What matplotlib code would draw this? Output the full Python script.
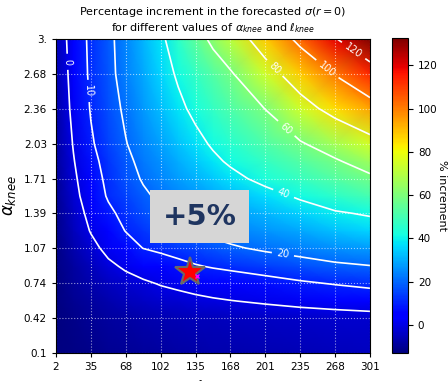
import numpy as np
import matplotlib
matplotlib.use('Agg')
import matplotlib.pyplot as plt

# grid nodes and the % increment (one list per alpha row)
ell_knee = [2, 18.6, 35.2, 51.8, 68.4, 85.1, 101.7, 118.3, 134.9, 151.5,
            168.1, 201.3, 234.6, 267.8, 301]
alpha_knee = [0.1, 0.42, 0.58, 0.74, 0.9, 1.07, 1.23, 1.39, 1.55, 1.71,
              1.87, 2.03, 2.36, 2.68, 3.0]

row_010 = [-13, -12.3, -11.5, -10.7, -10, -9.3, -8.7, -8.2, -7.7, -7.3, -7,
           -6.3, -5.7, -5.2, -4.7]
row_042 = [-13, -11.5, -10, -9, -8, -7.2, -6.5, -6, -5.5, -5.1, -4.8,
           -4.2, -3.7, -3.3, -3]
row_058 = [-12.8, -10.6, -8.7, -7.0, -5.5, -4.3, -3.2, -2.3, -1.5, -0.8,
           -0.2, 0.9, 2.1, 3.2, 4.4]
row_074 = [-12.5, -9.5, -7, -4.8, -2.8, -1.1, 0.4, 1.4, 2.5, 3.5, 4.5,
           6.6, 8.7, 10.4, 12]
row_090 = [-12.3, -8.7, -5.2, -1.6, 1.1, 3.2, 5.2, 7.3, 9.3, 10.7, 11.8,
           13.9, 16.1, 18.3, 19.6]
row_107 = [-12, -7.1, -2.3, 2.2, 6.3, 10.2, 11.9, 13.7, 15.4, 17.2, 18.9,
           21.5, 23.6, 25.8, 27.9]
row_123 = [-11.5, -5.5, 0.5, 5.5, 10.3, 13.0, 15.8, 18.6, 20.7, 22.2, 23.7,
           26.6, 29.6, 32.5, 35.4]
row_139 = [-11, -4.1, 2.4, 8.2, 12.5, 16.0, 19.5, 21.7, 23.6, 25.5, 27.4,
           31.3, 35.2, 39.0, 41]
row_155 = [-10.5, -2.7, 4.6, 10.9, 14.7, 18.6, 21.6, 24.1, 26.6, 29.1, 31.6,
           36.6, 41.4, 45.7, 50.1]
row_171 = [-10, -1.6, 5.9, 12.0, 16.6, 20.8, 24.1, 27.4, 30.7, 34.0, 37.2,
           42.8, 47.7, 52.6, 57.5]
row_187 = [-9.5, -0.5, 7.3, 13.1, 18.0, 22.3, 26.2, 30.1, 34.0, 38.0, 41.4,
           47.1, 52.8, 58.5, 66]
row_203 = [-9, 0.5, 8.9, 14.4, 19.6, 24.0, 28.4, 32.8, 37.1, 41.2, 44.7,
           51.6, 58.6, 66.6, 75]
row_236 = [-8, 2.2, 10.6, 16.1, 21.6, 26.9, 32.3, 37.7, 42.5, 46.9, 51.3,
           60.3, 74.3, 85.2, 93.9]
row_268 = [-7, 3.2, 11.6, 17.5, 23.5, 29.5, 35.4, 41.4, 47.1, 52.9, 58.6,
           74.0, 88.0, 100.8, 113.6]
row_300 = [-6, 3.9, 12.0, 17.8, 24.2, 31.1, 37.9, 45.9, 54.4, 62.9, 71.1,
           87.6, 103.6, 119.2, 132.5]

levels = [0, 10, 20, 40, 60, 80, 100, 120]
x_ticks = [2, 35.2, 68.4, 101.7, 134.9, 168.1, 201.3, 234.6, 267.8, 301]
x_labels = ['2', '35', '68', '102', '135', '168', '201', '235', '268', '301']
y_ticks = [0.1, 0.422, 0.744, 1.067, 1.389, 1.711, 2.033, 2.356, 2.678, 3.0]
y_labels = ['0.1', '0.42', '0.74', '1.07', '1.39', '1.71', '2.03', '2.36',
            '2.68', '3.']

# fiducial point
star_ell, star_alpha = 129.6, 0.85

Z = np.array([row_010, row_042, row_058, row_074, row_090, row_107, row_123,
              row_139, row_155, row_171, row_187, row_203, row_236, row_268,
              row_300])
X, Y = np.meshgrid(ell_knee, alpha_knee)

fig = plt.figure(figsize=(4.48, 3.81), dpi=100)
ax = fig.add_axes([0.125, 0.0735, 0.701, 0.824])
cax = fig.add_axes([0.874, 0.0735, 0.037, 0.826])

mesh = ax.pcolormesh(X, Y, Z, cmap='jet', shading='gouraud')
cs = ax.contour(X, Y, Z, levels=levels, colors='white', linewidths=1.2)
ax.clabel(cs, fmt='%d', fontsize=7, inline=True,
          manual=[(12.8, 2.79), (31.8, 2.52), (218, 1.01), (219, 1.58),
                  (219, 2.15), (209, 2.72), (260, 2.72), (285, 2.89)])

ax.plot(star_ell, star_alpha, marker='*', markersize=22, color='red',
        markeredgecolor='dimgray', markeredgewidth=1.5, linestyle='none')
ax.plot(star_ell + 7, star_alpha - 0.04, marker='x', markersize=3,
        color='magenta', linestyle='none')

ax.text(139, 1.36, '+5%', fontsize=21, fontweight='bold', color='#1f3560',
        ha='center', va='center',
        bbox=dict(facecolor='#d6d6d6', edgecolor='none', pad=9))

ax.set_xlim(2, 301)
ax.set_ylim(0.1, 3.0)
ax.set_xticks(x_ticks)
ax.set_xticklabels(x_labels)
ax.set_yticks(y_ticks)
ax.set_yticklabels(y_labels)
ax.tick_params(labelsize=7.5, length=3)
ax.grid(color='white', linestyle=':', linewidth=0.8, alpha=0.6)

ax.set_title('Percentage increment in the forecasted $\\sigma(r=0)$\n'
             'for different values of $\\alpha_{knee}$ and $\\ell_{knee}$',
             fontsize=8)
ax.set_ylabel('$\\alpha_{knee}$', fontsize=12)
ax.set_xlabel('$\\ell_{knee}$', fontsize=12)

cb = fig.colorbar(mesh, cax=cax, ticks=[0, 20, 40, 60, 80, 100, 120])
cb.ax.tick_params(labelsize=7.5)
cb.set_label('% increment', rotation=270, labelpad=7, fontsize=8)

fig.savefig('out.png', dpi=100)
